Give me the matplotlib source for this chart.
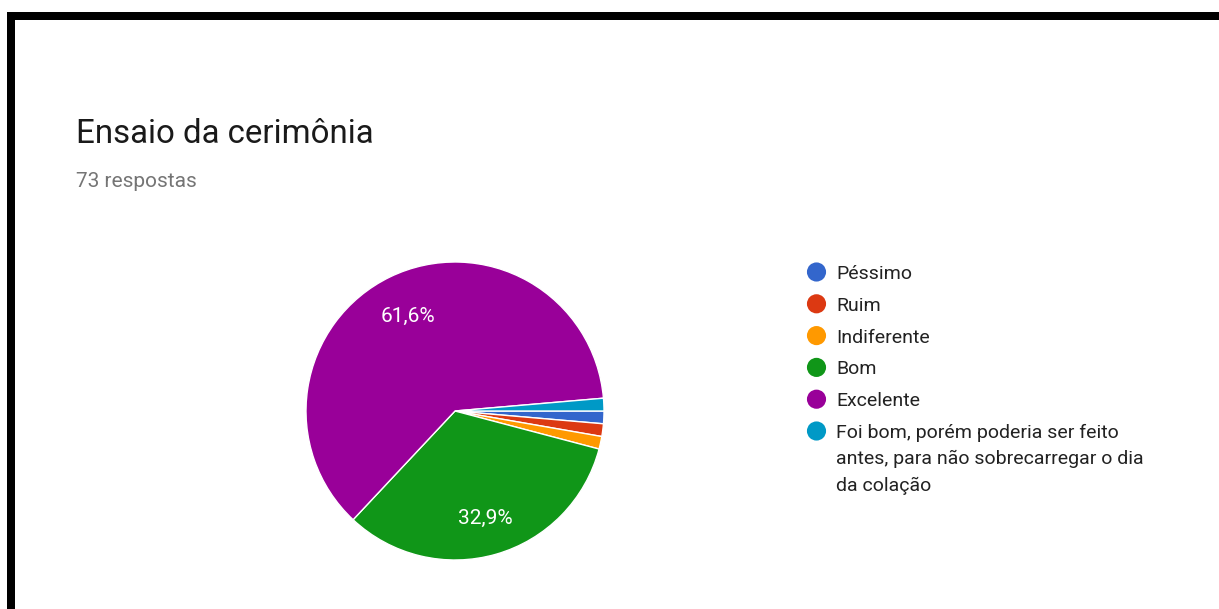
import matplotlib.pyplot as plt

plt.rcParams['font.family'] = ['Roboto', 'DejaVu Sans']

# dados do gráfico
categorias = ['Péssimo', 'Ruim', 'Indiferente', 'Bom', 'Excelente',
              'Foi bom, porém poderia ser feito\nantes, para não sobrecarregar o dia\nda colação']
respostas = [1, 1, 1, 24, 45, 1]
cores = ['#3366cc', '#dc3912', '#ff9900', '#109618', '#990099', '#0099c6']
titulo = 'Ensaio da cerimônia'
subtitulo = '73 respostas'

W, H = 1219, 609
fig = plt.figure(figsize=(W / 100, H / 100), dpi=100)

# camada de fundo em pixels (borda, textos, legenda)
bg = fig.add_axes([0, 0, 1, 1])
bg.set_xlim(0, W)
bg.set_ylim(H, 0)
bg.axis('off')

# borda preta (topo e esquerda)
bg.add_patch(plt.Rectangle((7, 12), W, 7.5, color='black', lw=0))
bg.add_patch(plt.Rectangle((7, 12), 8, H, color='black', lw=0))

bg.text(76, 143, titulo, fontsize=23.8, color='#1a1a1a', va='baseline', ha='left')
bg.text(76, 187, subtitulo, fontsize=15, color='#757575', va='baseline', ha='left')

# pizza
cx, cy, r = 455, 411, 149
ax = fig.add_axes([(cx - r) / W, (H - cy - r) / H, 2 * r / W, 2 * r / H])


def rotulo(p):
    return (f'{p:.1f}'.replace('.', ',') + '%') if p > 5 else ''


wedges, textos, pcts = ax.pie(respostas, colors=cores, startangle=0, counterclock=False,
                              autopct=rotulo, pctdistance=0.73,
                              wedgeprops=dict(edgecolor='white', linewidth=1),
                              textprops=dict(color='white', fontsize=15))
for t in pcts:
    x, y = t.get_position()
    t.set_position((x + 0.005, y - 0.02))
ax.set_xlim(-1, 1)
ax.set_ylim(-1, 1)

# legenda
lx, ly, passo, entrelinha = 816.5, 272, 31.8, 26.5
for i, (nome, cor) in enumerate(zip(categorias, cores)):
    y = ly + i * passo
    bg.scatter([lx], [y], s=190, color=cor, edgecolors='none')
    for k, linha in enumerate(nome.split('\n')):
        bg.text(836, y + 7 + k * entrelinha, linha, fontsize=14, color='#222222',
                va='baseline', ha='left')

fig.savefig('out.png', dpi=100)
